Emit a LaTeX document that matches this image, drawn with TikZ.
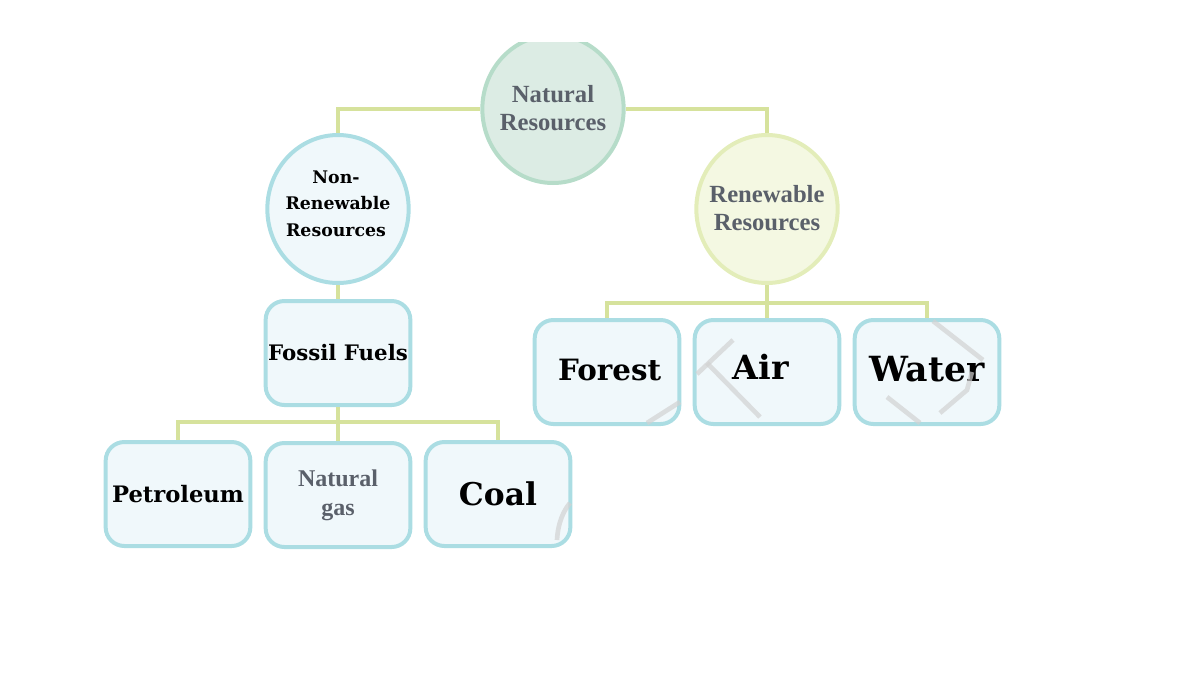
\documentclass[tikz,border=0pt]{standalone}
\usepackage{xcolor}
\usepackage{fontspec}
\setmainfont{DejaVu Serif}
\newfontfamily\softfont{Liberation Serif}
\usetikzlibrary{positioning,shapes.geometric}
\definecolor{linkgreen}{HTML}{D6E29C}
\definecolor{boxblue}{HTML}{ABDDE3}
\definecolor{boxfill}{HTML}{F0F8FB}
\definecolor{rootline}{HTML}{B6DCC9}
\definecolor{rootfill}{HTML}{DCECE4}
\definecolor{renewline}{HTML}{E3EDB9}
\definecolor{renewfill}{HTML}{F4F8E2}
\definecolor{softtext}{HTML}{5A606A}
\begin{document}
\begin{tikzpicture}[
  x=0.75pt, y=-0.75pt,
  node distance=8.5pt,
  res/.style={ellipse, draw, line width=3pt, inner xsep=-16pt, inner ysep=0pt, minimum width=106pt, minimum height=111pt, align=center},
  item/.style={rectangle, draw=boxblue, fill=boxfill, line width=3pt, rounded corners=14pt, inner sep=0pt, minimum width=108.5pt, minimum height=78pt, align=center, font=\bfseries},
  soft/.style={font=\softfont\bfseries\fontsize{18.5}{21}\selectfont, text=softtext},
  link/.style={draw=linkgreen, line width=3pt},
  wmark/.style={draw=gray!35, line width=3.5pt, opacity=0.7}
]
\useasboundingbox (0,0) rectangle (1200,675);

% Top: the whole group, cut off by the upper edge
\begin{scope}
\clip (0,42) rectangle (1200,675);
\node[res, draw=rootline, fill=rootfill, soft, text depth=1.5pt] (natural) at (553,109) {Natural\\Resources};
\end{scope}

% Left: non-renewable branch
\node[res, draw=boxblue, fill=boxfill, font=\bfseries\fontsize{13}{20}\selectfont, text depth=8pt] (nonren) at (338,209) {Non-\hspace*{3pt}\\Renewable\hspace*{3pt}\\Resources\hspace*{3pt}};
\node[item, font=\bfseries\fontsize{16}{18}\selectfont] (fossil) at (338,353) {Fossil Fuels};
\node[item, soft, font=\softfont\bfseries\fontsize{18}{22}\selectfont] (gas) at (338,495) {Natural\\gas};
\node[item, left=of gas, yshift=0.75pt, font=\bfseries\fontsize{17}{19}\selectfont] (petroleum) {Petroleum};
\node[item, right=of gas, yshift=0.75pt, font=\bfseries\fontsize{23.5}{26}\selectfont] (coal) {Coal};

% Right: renewable branch
\node[res, draw=renewline, fill=renewfill, soft, text depth=1.5pt] (renew) at (767,209) {Renewable\\Resources};
\node[item, font=\bfseries\fontsize{25}{28}\selectfont, text depth=8pt] (air) at (767,372) {Air\hspace*{9pt}};
\node[item, left=of air, font=\bfseries\fontsize{22}{25}\selectfont, text depth=4pt] (forest) {\hspace*{4pt}Forest};
\node[item, right=of air, font=\bfseries\fontsize{26}{29}\selectfont, text depth=4pt] (water) {Water};

% Links
\coordinate (renbus) at (767,303);
\coordinate (fosbus) at (338,422);
\draw[link] (natural.west) -| (nonren.north);
\draw[link] (natural.east) -| (renew.north);
\draw[link] (nonren.south) -- (fossil.north);
\draw[link] (fossil.south) -- (gas.north);
\draw[link] (petroleum.north) |- (fosbus) -| (coal.north);
\draw[link] (renew.south) -- (air.north);
\draw[link] (forest.north) |- (renbus) -| (water.north);

% Watermark traces
\draw[wmark] (647,423) -- (680,402);
\draw[wmark] (697,374) -- (733,340);
\draw[wmark] (707,363) -- (760,417);
\draw[wmark] (933,321) -- (983,360);
\draw[wmark] (887,397) -- (920,423);
\draw[wmark] (940,413) -- (967,390) -- (972,372);
\draw[wmark] (557,540) .. controls (558,522) and (564,510) .. (570,503);
\end{tikzpicture}
\end{document}
